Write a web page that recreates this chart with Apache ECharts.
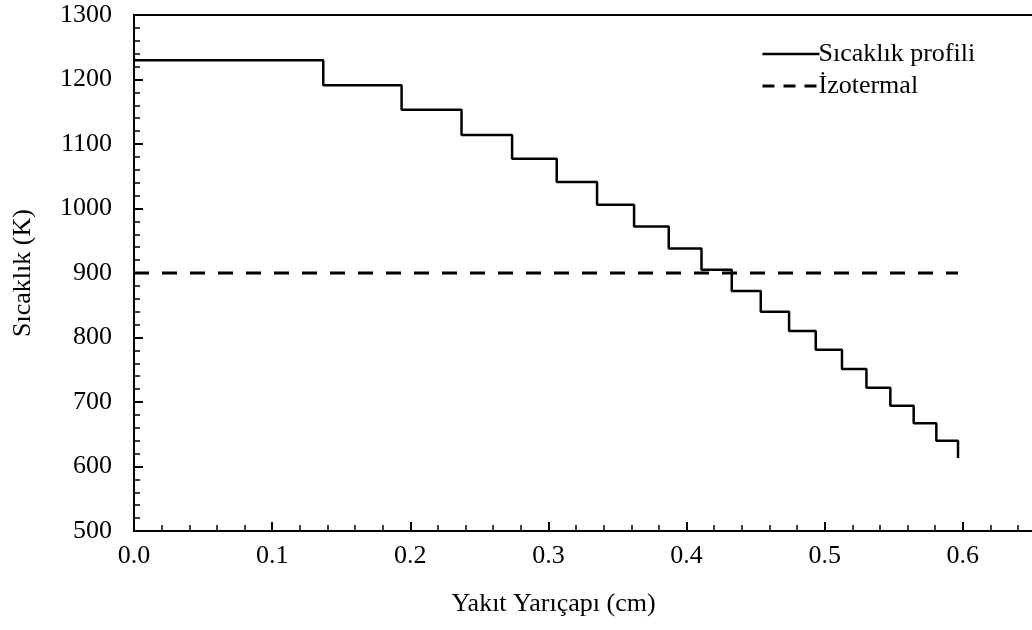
<!DOCTYPE html>
<html>
<head>
<meta charset="utf-8">
<script src="https://cdn.jsdelivr.net/npm/echarts@6/dist/echarts.min.js"></script>
<style>html,body{margin:0;padding:0;background:#fff}#c{width:1032px;height:630px}</style>
</head>
<body>
<div id="c"></div>
<script>
const radius = [0, 0.137, 0.1937, 0.2371, 0.2737, 0.306, 0.3352, 0.362, 0.3871, 0.4108, 0.4327, 0.4537, 0.4742, 0.4935, 0.5125, 0.5302, 0.5475, 0.5644, 0.5808, 0.5965];
const temperature = [1230, 1191, 1153, 1114, 1077, 1041, 1006, 972, 938, 905, 872, 840, 810, 781, 751, 722, 694, 667, 640, 613];
const isoRadius = [0, 0.5965];
const isoTemp = [900, 900];
const seriesNames = ['Sıcaklık profili', 'İzotermal'];
const xTitle = 'Yakıt Yarıçapı (cm)';
const yTitle = 'Sıcaklık (K)';

const font = 'Liberation Serif';
const fs = 26;
const chart = echarts.init(document.getElementById('c'), null, {renderer: 'canvas'});
chart.setOption({
  animation: false,
  grid: {left: 134, top: 15, right: -69, bottom: 99, outerBoundsMode: 'none', containLabel: false,
    show: true, borderColor: '#000', borderWidth: 2},
  legend: {
    orient: 'vertical', left: 756, top: 36, itemWidth: 57, itemHeight: 14, itemGap: 6,
    itemStyle: {opacity: 0},
    textStyle: {fontFamily: font, fontSize: fs, color: '#000', padding: [0,0,0,-6]},
    data: [
      {name: seriesNames[0], lineStyle: {type: 'solid', width: 2.5}},
      {name: seriesNames[1], lineStyle: {type: [12, 9], width: 3}}
    ]
  },
  xAxis: {
    type: 'value', min: 0, max: 0.7, interval: 0.1,
    name: xTitle, nameLocation: 'middle', nameGap: 60,
    nameTextStyle: {fontFamily: font, fontSize: fs, color: '#000', padding: [0, 128, 0, 0]},
    axisLine: {lineStyle: {color: '#000', width: 2}},
    axisTick: {inside: true, length: 9, lineStyle: {color: '#000', width: 2}},
    minorTick: {show: true, splitNumber: 5, length: 6, lineStyle: {color: '#000', width: 1.5}},
    splitLine: {show: false},
    axisLabel: {fontFamily: font, fontSize: fs, color: '#000', margin: 12, showMaxLabel: false,
      formatter: v => v.toFixed(1)}
  },
  yAxis: {
    type: 'value', min: 500, max: 1300, interval: 100,
    name: yTitle, nameLocation: 'middle', nameGap: 98,
    nameTextStyle: {fontFamily: font, fontSize: fs, color: '#000'},
    axisLine: {lineStyle: {color: '#000', width: 2}},
    axisTick: {inside: true, length: 9, lineStyle: {color: '#000', width: 2}},
    minorTick: {show: true, splitNumber: 5, length: 6, lineStyle: {color: '#000', width: 1.5}},
    splitLine: {show: false},
    axisLabel: {fontFamily: font, fontSize: fs, color: '#000', margin: 22, formatter: v => String(v)}
  },
  series: [
    {
      name: seriesNames[0], type: 'line', step: 'end', symbol: 'none',
      lineStyle: {color: '#000', width: 2.5},
      itemStyle: {color: '#000'},
      data: radius.map((r, i) => [r, temperature[i]])
    },
    {
      name: seriesNames[1], type: 'line', symbol: 'none',
      lineStyle: {color: '#000', width: 3, type: [15, 13]},
      itemStyle: {color: '#000'},
      data: isoRadius.map((r, i) => [r, isoTemp[i]])
    }
  ]
});
</script>
</body>
</html>
